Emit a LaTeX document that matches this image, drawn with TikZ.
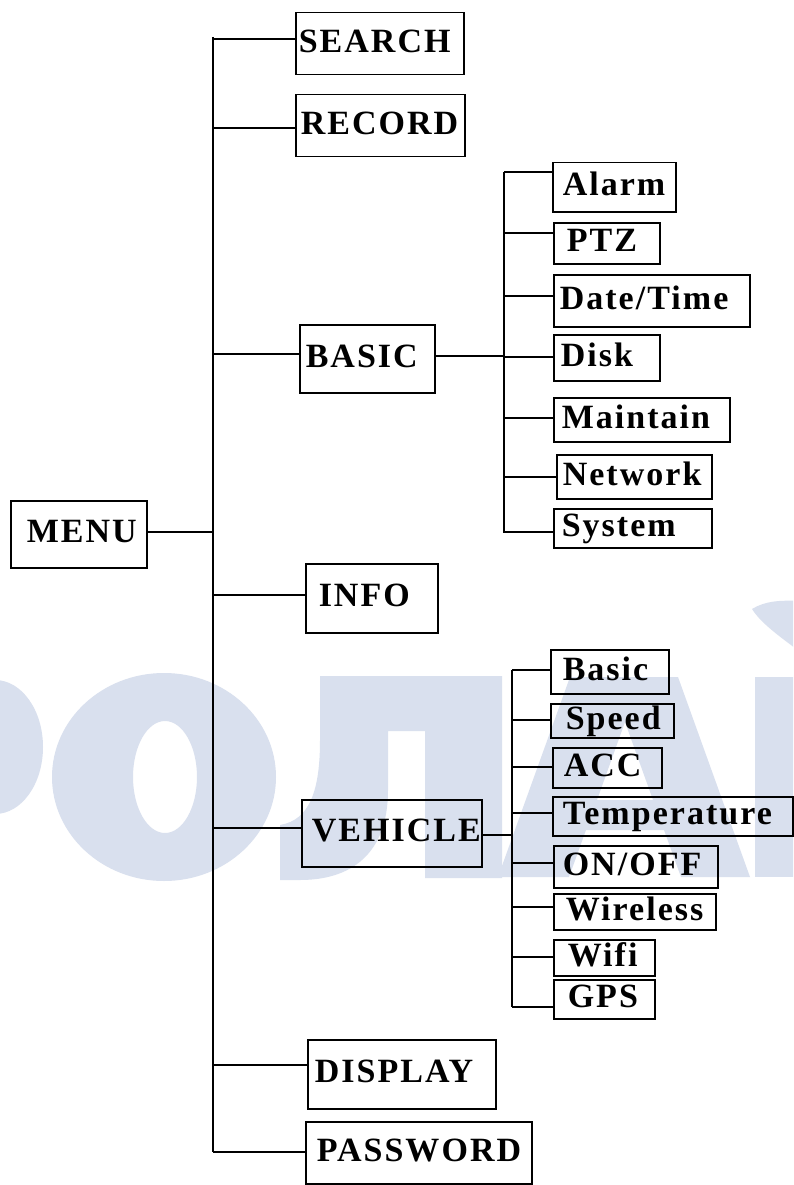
\documentclass[tikz,border=0pt]{standalone}
\usepackage{fontspec}
\setmainfont{Liberation Serif}
\newfontfamily\boxfont[LetterSpace=6]{Liberation Serif}
\hyphenpenalty=10000
\definecolor{wmblue}{RGB}{217,224,238}
\tikzset{
  box/.style={draw, line width=1.5pt, anchor=north west, align=left, inner ysep=0pt,
    text height=24pt, text depth=7pt,
    font=\boxfont\bfseries\fontsize{34pt}{36pt}\selectfont},
  conn/.style={line width=1.5pt},
}

\begin{document}
\begin{tikzpicture}[x=1pt, y=-1pt]
\useasboundingbox (0,0) rectangle (793,1185);
\fill[white] (0,0) rectangle (793,1185);

% 背景水印
\begin{scope}
\clip (0,0) rectangle (793,1185);
\fill[wmblue] (-5,747) ellipse [x radius=48pt, y radius=67pt];
\fill[wmblue, even odd rule] (164,777) ellipse [x radius=112pt, y radius=104pt]
  (165,777) ellipse [x radius=32pt, y radius=56pt];
\fill[wmblue] (320,676) -- (502,676) -- (502,878) -- (425,878) -- (425,731) -- (388,731)
  -- (388,790) .. controls (388,855) and (350,880) .. (300,880) -- (280,880) -- (280,825)
  .. controls (310,820) and (320,790) .. (320,740) -- cycle;
\fill[wmblue, even odd rule] (570,677) -- (678,677) -- (750,877) -- (681,877) -- (664,830)
  -- (586,830) -- (569,877) -- (498,877) -- cycle
  (625,722) -- (653,800) -- (597,800) -- cycle;
\fill[wmblue] (755,677) rectangle (800,877);
\fill[wmblue] (752,609) .. controls (765,601) and (780,600) .. (800,601) -- (800,652)
  .. controls (785,640) and (762,625) .. (752,609) -- cycle;
\end{scope}

% 定义节点
\node[box, minimum height=67pt, text width=104pt, inner xsep=16pt] (menu) at (10,500) {MENU};

\node[box, minimum height=62pt, text width=162pt, inner xsep=3pt] (search) at (295,12) {SEARCH};
\node[box, minimum height=62pt, text width=159pt, inner xsep=5pt] (record) at (295,94) {RECORD};
\node[box, minimum height=68pt, text width=123pt, inner xsep=6pt] (basic) at (299,324) {BASIC};
\node[box, minimum height=69pt, text width=106pt, inner xsep=13pt] (info) at (305,563) {INFO};
\node[box, minimum height=67pt, text width=160pt, inner xsep=10pt] (vehicle) at (301,799) {VEHICLE};
\node[box, minimum height=69pt, text width=174pt, inner xsep=7pt] (display) at (307,1039) {DISPLAY};
\node[box, minimum height=62pt, text width=204pt, inner xsep=11pt] (password) at (305,1121) {PASSWORD};

\node[box, minimum height=49pt, text width=103pt, inner xsep=10pt] (alarm) at (552,162) {Alarm};
\node[box, minimum height=41pt, text width=80pt, inner xsep=13pt] (ptz) at (553,222) {PTZ};
\node[box, minimum height=52pt, text width=184pt, inner xsep=6pt] (datetime) at (553,274) {Date/Time};
\node[box, minimum height=46pt, text width=92pt, inner xsep=7pt] (disk) at (553,334) {Disk};
\node[box, minimum height=44pt, text width=160pt, inner xsep=8pt] (maintain) at (553,397) {Maintain};
\node[box, minimum height=44pt, text width=143pt, inner xsep=6pt] (network) at (556,454) {Network};
\node[box, minimum height=39pt, text width=142pt, inner xsep=8pt] (system) at (553,508) {System};

\node[box, minimum height=44pt, text width=94pt, inner xsep=12pt] (vbasic) at (550,649) {Basic};
\node[box, minimum height=34pt, text width=93pt, inner xsep=15pt] (speed) at (550,703) {Speed};
\node[box, minimum height=40pt, text width=87pt, inner xsep=11pt] (acc) at (552,747) {ACC};
\node[box, minimum height=39pt, text width=220pt, inner xsep=10pt] (temp) at (552,796) {Temperature};
\node[box, minimum height=42pt, text width=146pt, inner xsep=9pt] (onoff) at (553,845) {ON/OFF};
\node[box, minimum height=36pt, text width=138pt, inner xsep=12pt] (wireless) at (553,893) {Wireless};
\node[box, minimum height=36pt, text width=73pt, inner xsep=14pt] (wifi) at (553,939) {Wifi};
\node[box, minimum height=39pt, text width=73pt, inner xsep=14pt] (gps) at (553,979) {GPS};

% 主干
\coordinate (spt) at (213,37);
\coordinate (spb) at (213,1152);
\draw[conn] (spt) -- (spb);
\draw[conn] (menu.east |- 0,532) -- (spt |- 0,532);
\draw[conn] (spt |- 0,39) -- (search.west |- 0,39);
\draw[conn] (spt |- 0,128) -- (record.west |- 0,128);
\draw[conn] (spt |- 0,354) -- (basic.west |- 0,354);
\draw[conn] (spt |- 0,595) -- (info.west |- 0,595);
\draw[conn] (spt |- 0,828) -- (vehicle.west |- 0,828);
\draw[conn] (spt |- 0,1065) -- (display.west |- 0,1065);
\draw[conn] (spt |- 0,1152) -- (password.west |- 0,1152);

% BASIC 分支
\coordinate (bt) at (504,172);
\coordinate (bb) at (504,533);
\draw[conn] (bt) -- (bb);
\draw[conn] (basic.east |- 0,356) -- (bt |- 0,356);
\draw[conn] (bt |- 0,172) -- (alarm.west |- 0,172);
\draw[conn] (bt |- 0,233) -- (ptz.west |- 0,233);
\draw[conn] (bt |- 0,296) -- (datetime.west |- 0,296);
\draw[conn] (bt |- 0,357) -- (disk.west |- 0,357);
\draw[conn] (bt |- 0,418) -- (maintain.west |- 0,418);
\draw[conn] (bt |- 0,477) -- (network.west |- 0,477);
\draw[conn] (bt |- 0,532) -- (system.west |- 0,532);

% VEHICLE 分支
\coordinate (vt) at (512,670);
\coordinate (vb) at (512,1007);
\draw[conn] (vt) -- (vb);
\draw[conn] (vehicle.east |- 0,835) -- (vt |- 0,835);
\draw[conn] (vt |- 0,670) -- (vbasic.west |- 0,670);
\draw[conn] (vt |- 0,720) -- (speed.west |- 0,720);
\draw[conn] (vt |- 0,767) -- (acc.west |- 0,767);
\draw[conn] (vt |- 0,813) -- (temp.west |- 0,813);
\draw[conn] (vt |- 0,863) -- (onoff.west |- 0,863);
\draw[conn] (vt |- 0,907) -- (wireless.west |- 0,907);
\draw[conn] (vt |- 0,957) -- (wifi.west |- 0,957);
\draw[conn] (vt |- 0,1007) -- (gps.west |- 0,1007);

\end{tikzpicture}
\end{document}
